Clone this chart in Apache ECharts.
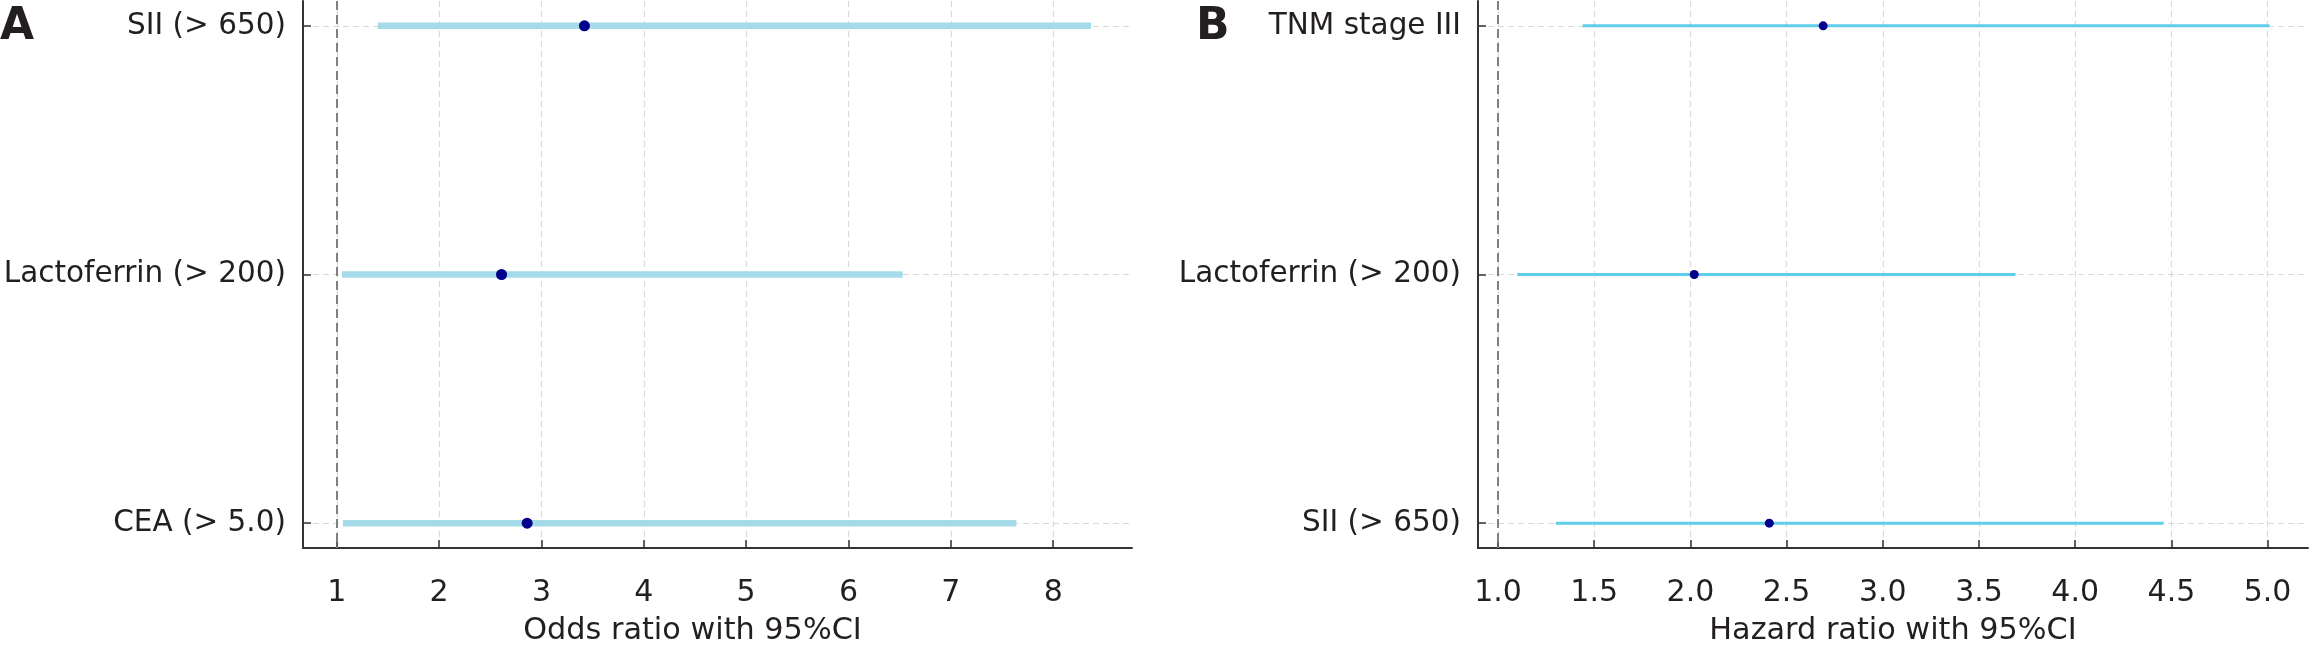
<!DOCTYPE html>
<html>
<head>
<meta charset="utf-8">
<script src="https://cdn.jsdelivr.net/npm/echarts@6/dist/echarts.min.js"></script>
<style>
html,body{margin:0;padding:0;background:#fff;}
#chart{width:2311px;height:653px;}
</style>
</head>
<body>
<div id="chart"></div>
<script>
// Panel A: odds ratios
var catsA = ['SII (> 650)', 'Lactoferrin (> 200)', 'CEA (> 5.0)'];
var orA   = [3.42, 2.61, 2.86];
var lowA  = [1.40, 1.05, 1.06];
var highA = [8.37, 6.53, 7.64];
var ticksA = [1, 2, 3, 4, 5, 6, 7, 8];

// Panel B: hazard ratios
var catsB = ['TNM stage III', 'Lactoferrin (> 200)', 'SII (> 650)'];
var hrB   = [2.69, 2.02, 2.41];
var lowB  = [1.44, 1.10, 1.30];
var highB = [5.01, 3.69, 4.46];
var ticksB = [1.0, 1.5, 2.0, 2.5, 3.0, 3.5, 4.0, 4.5, 5.0];

var rowIdx = [0, 1, 2];
var FONT = 'DejaVu Sans';
var TXT = '#231f20';

function ciData(low, high) {
  return low.map(function (l, i) { return [l, high[i], i]; });
}
function ptData(v) {
  return v.map(function (x, i) { return [x, i]; });
}

function xAxisCfg(idx, min, max, ticks, name, dec, namePad) {
  return {
    type: 'value', gridIndex: idx, min: min, max: max,
    name: name, nameLocation: 'middle', nameGap: 68,
    nameTextStyle: { fontFamily: FONT, fontSize: 30.3, color: TXT, padding: namePad },
    axisLine: { show: true, onZero: false, lineStyle: { color: '#333', width: 2 } },
    axisTick: { show: true, inside: true, length: 8, customValues: ticks, lineStyle: { color: '#333', width: 1.5 } },
    axisLabel: { customValues: ticks, margin: 30, fontFamily: FONT, fontSize: 30, color: TXT,
      formatter: function (v) { return dec ? Number(v).toFixed(1) : String(Math.round(v)); } },
    splitLine: { show: true, lineStyle: { color: '#d9d9d9', type: [6, 4], width: 1.2 } }
  };
}
function yAxisCfg(idx, cats) {
  return {
    type: 'value', gridIndex: idx, min: -0.1, max: 2.1, inverse: true,
    axisLine: { show: true, lineStyle: { color: '#333', width: 2 } },
    axisTick: { show: true, inside: true, length: 8, customValues: rowIdx, lineStyle: { color: '#333', width: 1.5 } },
    axisLabel: { customValues: rowIdx, margin: 17, fontFamily: FONT, fontSize: 29.5, color: TXT,
      formatter: function (v) { return cats[Math.round(v)] || ''; } },
    splitLine: { show: true, lineStyle: { color: '#d9d9d9', type: [6, 4], width: 1.2 } }
  };
}

function ciSeries(idx, data, color, width) {
  return {
    type: 'custom', xAxisIndex: idx, yAxisIndex: idx, data: data, z: 3,
    renderItem: function (params, api) {
      var p1 = api.coord([api.value(0), api.value(2)]);
      var p2 = api.coord([api.value(1), api.value(2)]);
      return { type: 'line', shape: { x1: p1[0], y1: p1[1], x2: p2[0], y2: p2[1] },
        style: { stroke: color, lineWidth: width } };
    },
    markLine: {
      silent: true, symbol: 'none', label: { show: false },
      lineStyle: { color: '#808080', type: [9, 5], width: 2 },
      data: [{ xAxis: 1 }]
    }
  };
}
function ptSeries(idx, data, size) {
  return {
    type: 'scatter', xAxisIndex: idx, yAxisIndex: idx, data: data, z: 5,
    symbol: 'circle', symbolSize: size, itemStyle: { color: '#00008b', opacity: 1 }
  };
}

var chart = echarts.init(document.getElementById('chart'), null, { renderer: 'canvas' });
chart.setOption({
  animation: false,
  backgroundColor: '#ffffff',
  grid: [
    { left: 303, top: 1, width: 829, height: 547, containLabel: false, outerBoundsMode: 'none' },
    { left: 1478, top: 1, width: 830, height: 547, containLabel: false, outerBoundsMode: 'none' }
  ],
  xAxis: [
    xAxisCfg(0, 0.67, 8.77, ticksA, 'Odds ratio with 95%CI', false, [0, 50, 0, 0]),
    xAxisCfg(1, 0.896, 5.21, ticksB, 'Hazard ratio with 95%CI', true, [0, 0, 0, 0])
  ],
  yAxis: [yAxisCfg(0, catsA), yAxisCfg(1, catsB)],
  series: [
    ciSeries(0, ciData(lowA, highA), '#a5dbe8', 6.5),
    ptSeries(0, ptData(orA), 11),
    ciSeries(1, ciData(lowB, highB), '#5fcdec', 3),
    ptSeries(1, ptData(hrB), 9)
  ],
  graphic: [
    { type: 'text', left: 0, top: 6, style: { text: 'A', font: 'bold 44px "DejaVu Sans"', fill: TXT } },
    { type: 'text', left: 1196, top: 6, style: { text: 'B', font: 'bold 44px "DejaVu Sans"', fill: TXT } }
  ]
});
</script>
</body>
</html>
